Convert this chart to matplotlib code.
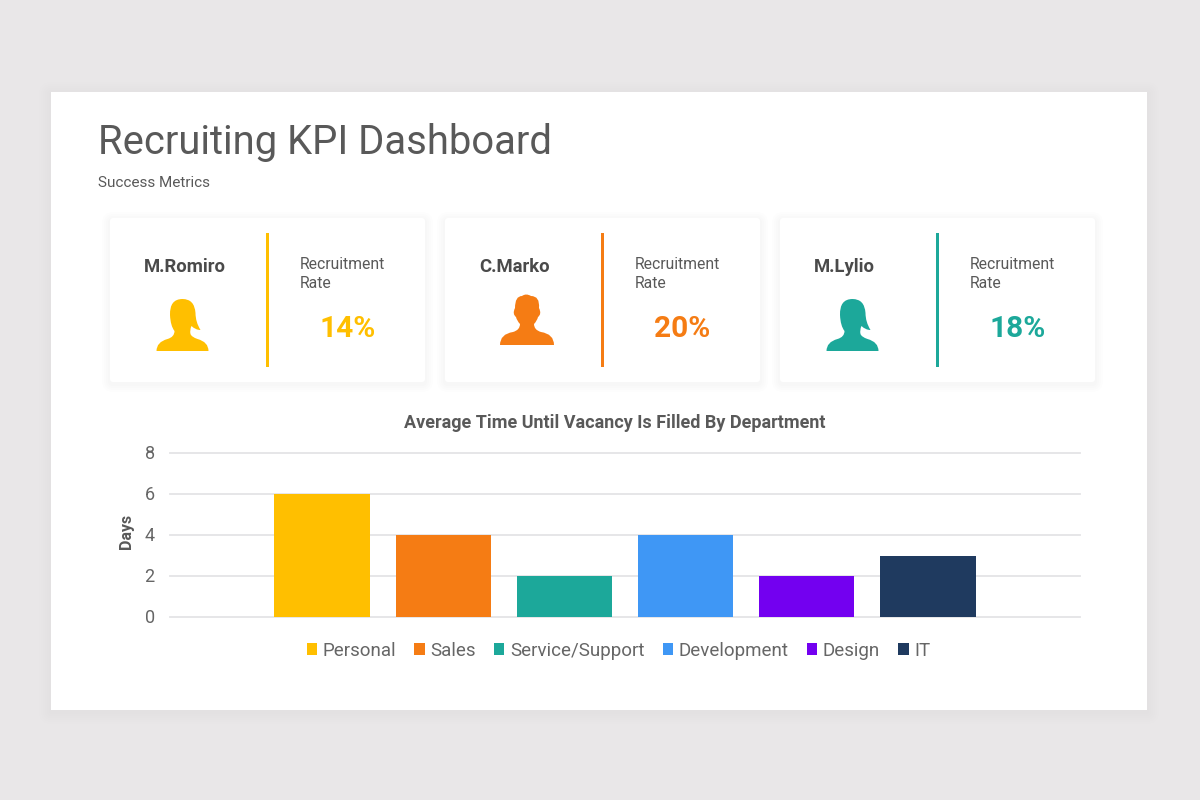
import matplotlib
matplotlib.use("Agg")
import matplotlib.pyplot as plt
from matplotlib.patches import FancyBboxPatch, PathPatch, Rectangle
from matplotlib.path import Path
from matplotlib.transforms import ScaledTranslation

plt.rcParams['font.family'] = ['Roboto', 'DejaVu Sans']

# chart values
departments = ["Personal", "Sales", "Service/Support", "Development", "Design", "IT"]
days = [6, 4, 2, 4, 2, 3]
bar_colors = ["#FFBF00", "#F57C14", "#1CA89A", "#3F97F5", "#7300F0", "#1F3A5F"]
y_ticks = [0, 2, 4, 6, 8]

# cards
names = ["M.Romiro", "C.Marko", "M.Lylio"]
rates = ["14%", "20%", "18%"]
card_colors = ["#FFBF00", "#F57C14", "#1CA89A"]
icon_kinds = ["female", "male", "female"]

TEXT = "#595959"
DARK = "#4A4A4A"
GRID = "#E4E4E6"

# silhouettes, offsets from the icon centre / bottom (in pixels, y down)
FEMALE = [
    (Path.MOVETO, (-26, 0)),
    (Path.CURVE3, (-26, -9)), (Path.CURVE3, (-15, -12)),
    (Path.CURVE3, (-8, -14)), (Path.CURVE3, (-8, -20)),
    (Path.CURVE3, (-12, -25)), (Path.CURVE3, (-12.5, -36)),
    (Path.CURVE3, (-13, -52)), (Path.CURVE3, (0, -52)),
    (Path.CURVE3, (12, -52)), (Path.CURVE3, (13, -38)),
    (Path.CURVE3, (13, -29)), (Path.CURVE3, (18, -21)),
    (Path.CURVE3, (13, -21)), (Path.CURVE3, (9, -25)),
    (Path.CURVE3, (7, -21)), (Path.CURVE3, (8, -17)),
    (Path.CURVE3, (9, -14)), (Path.CURVE3, (15, -12)),
    (Path.CURVE3, (26, -9)), (Path.CURVE3, (26, 0)),
    (Path.CLOSEPOLY, (-26, 0)),
]
MALE = [
    (Path.MOVETO, (-27, 0)),
    (Path.CURVE3, (-27, -11)), (Path.CURVE3, (-14, -13)),
    (Path.CURVE3, (-7, -15)), (Path.CURVE3, (-7, -21)),
    (Path.CURVE3, (-10, -24)), (Path.CURVE3, (-11, -28)),
    (Path.CURVE3, (-15, -31)), (Path.CURVE3, (-12, -37)),
    (Path.CURVE3, (-12, -49)), (Path.CURVE3, (-5, -49)),
    (Path.CURVE3, (-1, -52)), (Path.CURVE3, (4, -49)),
    (Path.CURVE3, (13, -49)), (Path.CURVE3, (12, -37)),
    (Path.CURVE3, (15, -31)), (Path.CURVE3, (11, -28)),
    (Path.CURVE3, (10, -24)), (Path.CURVE3, (7, -21)),
    (Path.CURVE3, (7, -15)), (Path.CURVE3, (14, -13)),
    (Path.CURVE3, (27, -11)), (Path.CURVE3, (27, 0)),
    (Path.CLOSEPOLY, (-27, 0)),
]


def draw_person(ax, cx, bottom, kind, color):
    shape = FEMALE if kind == "female" else MALE
    codes = [c for c, p in shape]
    verts = [(cx + p[0], bottom + p[1]) for c, p in shape]
    ax.add_patch(PathPatch(Path(verts, codes), fc=color, ec="none", zorder=4))


def soft_box(ax, x0, y0, x1, y1, radius, spread, zorder, alpha=0.004):
    # shadow made of stacked faint boxes
    for s in range(spread, 0, -2):
        ax.add_patch(FancyBboxPatch((x0 - s, y0 - s + 2), x1 - x0 + 2 * s, y1 - y0 + 2 * s,
                                    boxstyle=f"round,pad=0,rounding_size={radius + s}",
                                    fc="#000000", ec="none", alpha=alpha, zorder=zorder))
    ax.add_patch(FancyBboxPatch((x0, y0), x1 - x0, y1 - y0,
                                boxstyle=f"round,pad=0,rounding_size={radius}",
                                fc="white", ec="none", zorder=zorder + 1))


fig = plt.figure(figsize=(12, 8), dpi=100, facecolor="#E9E7E8")

# background layer in pixel coordinates
bg = fig.add_axes([0, 0, 1, 1])
bg.set_xlim(0, 1200)
bg.set_ylim(800, 0)
bg.axis("off")

soft_box(bg, 51, 92, 1147, 710, 0, 12, 1, alpha=0.004)

bg.text(98, 143, "Recruiting KPI Dashboard", fontsize=28.8, color=TEXT, va="center", ha="left", zorder=5)
bg.text(98, 183, "Success Metrics", fontsize=11, color=TEXT, va="center", ha="left", zorder=5)

for i in range(3):
    off = 335 * i
    soft_box(bg, 110 + off, 218, 425 + off, 382, 3, 8, 2, alpha=0.007)
    color = card_colors[i]
    bg.add_patch(Rectangle((266 + off, 233), 3, 134, fc=color, ec="none", zorder=4))
    bg.text(144 + off, 267, names[i], fontsize=13.3, fontweight="bold", color=DARK,
            ha="left", va="center", zorder=5)
    bg.text(299.5 + off, 264.5, "Recruitment", fontsize=11.3, color=TEXT, ha="left", va="center", zorder=5)
    bg.text(299.5 + off, 283, "Rate", fontsize=11.3, color=TEXT, ha="left", va="center", zorder=5)
    bg.text(347.5 + off, 329, rates[i], fontsize=21.5, fontweight="bold", color=color,
            ha="center", va="center", zorder=5)
    if icon_kinds[i] == "male":
        draw_person(bg, 527, 345, "male", color)
    else:
        draw_person(bg, 182.5 + off, 351, "female", color)

# bar chart: plot area spans x 170-1080, y 453-617 in pixels
ax = fig.add_axes([170 / 1200, 1 - 617 / 800, 910 / 1200, 164 / 800])
ax.patch.set_alpha(0)
x = range(len(departments))
bars = ax.bar(x, days, width=0.784, color=bar_colors, zorder=3)
ax.set_xlim(-1.254, 6.254)
ax.set_ylim(0, 8)
ax.set_xticks([])
ax.set_yticks(y_ticks)
ax.tick_params(axis="y", length=0, pad=11, labelsize=13, labelcolor="#666666")
ax.grid(axis="y", color=GRID, linewidth=1.3, zorder=1, clip_on=False)
ax.set_axisbelow(True)
for side in ax.spines.values():
    side.set_visible(False)
for gl in ax.get_ygridlines():
    gl.set_clip_on(False)
for lab in ax.get_yticklabels():
    lab.set_transform(lab.get_transform() + ScaledTranslation(0, 1 / 100, fig.dpi_scale_trans))
ax.set_ylabel("Days", fontsize=11.5, fontweight="bold", color=TEXT)
ax.yaxis.set_label_coords((134 - 170) / 910, (617 - 531) / 164)
ax.set_title("Average Time Until Vacancy Is Filled By Department", fontsize=13, fontweight="bold",
             color=TEXT, x=(615 - 170) / 910, y=(617 - 422.5) / 164, va="center", pad=0)

ax.legend(bars, departments, loc="center", bbox_to_anchor=(618.5 / 1200, 1 - 650.5 / 800),
          bbox_transform=fig.transFigure, ncol=6, frameon=False, fontsize=13.5, labelcolor="#666666",
          handlelength=0.55, handleheight=0.55, handletextpad=0.3, columnspacing=0.97,
          borderpad=0, borderaxespad=0)

fig.savefig("out.png", dpi=100, facecolor=fig.get_facecolor())
